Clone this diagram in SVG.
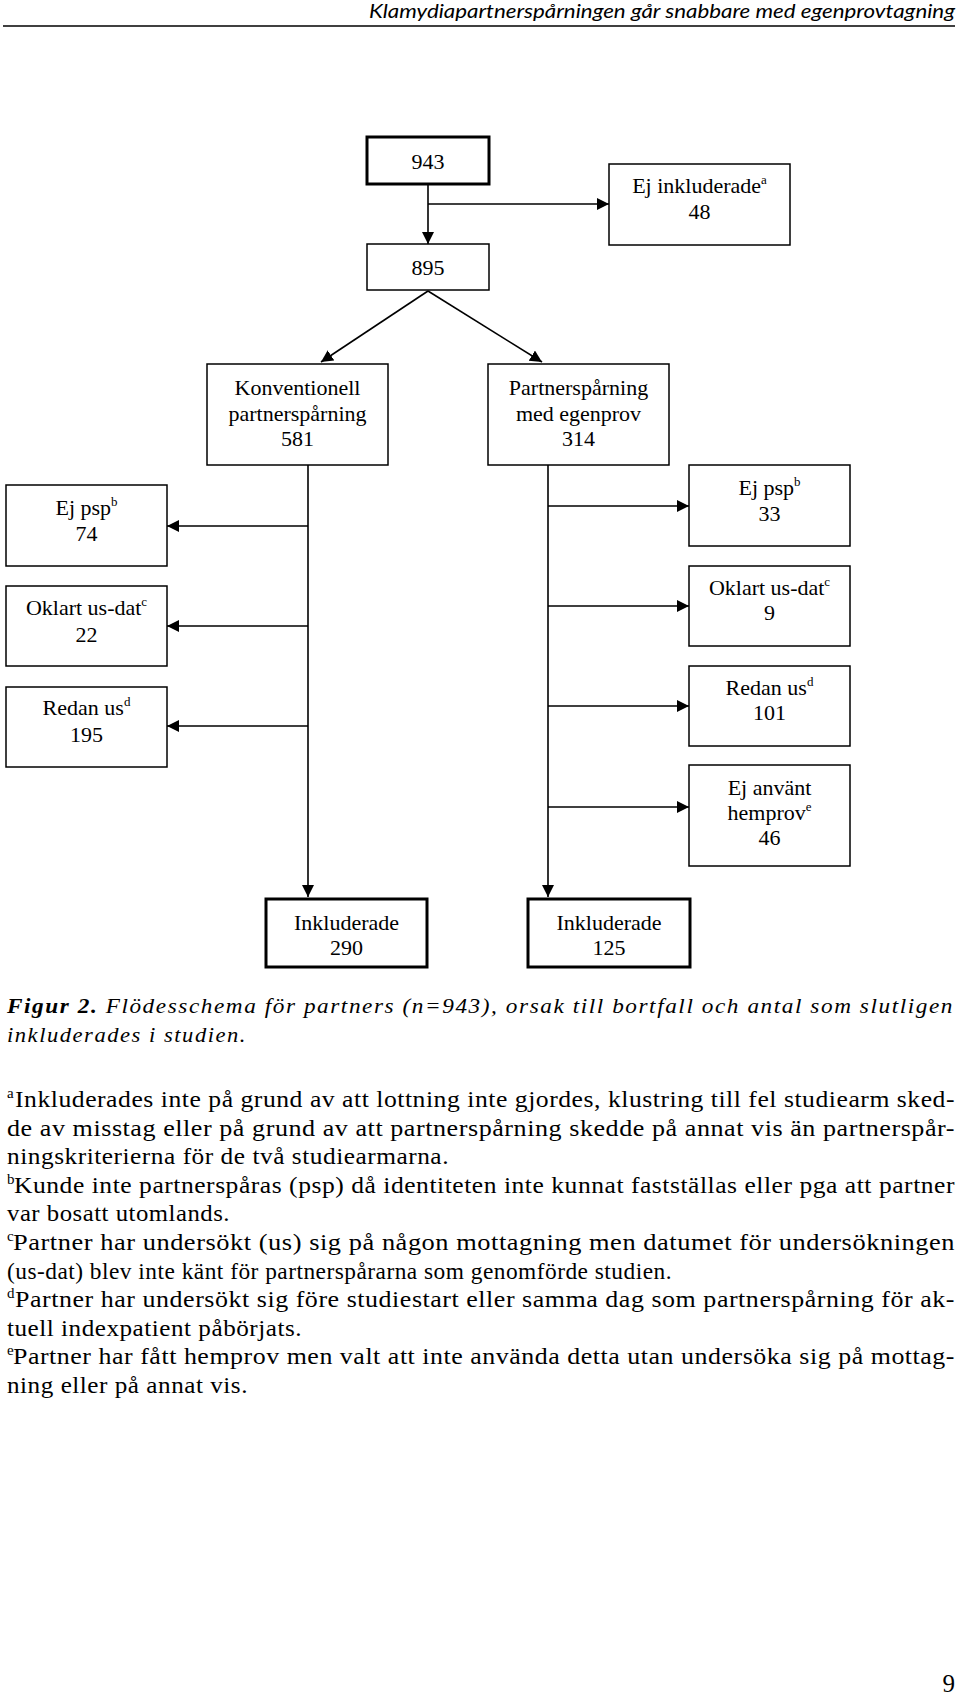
<svg xmlns="http://www.w3.org/2000/svg" width="960" height="1697" viewBox="0 0 960 1697">
<style>
.box{fill:#fff;stroke:#000;stroke-width:1.5}
.thick{fill:#fff;stroke:#000;stroke-width:3}
.t{font-family:"Liberation Serif","Times New Roman",serif;font-size:22px;fill:#000;text-anchor:middle}
.sup{font-size:13px}
.c{stroke:#000;stroke-width:1.6;fill:none}
.fn{font-family:"Liberation Serif","Times New Roman",serif;font-size:24px;letter-spacing:0.5px;fill:#000}
.fs{font-family:"Liberation Serif","Times New Roman",serif;font-size:15px;fill:#000}
.cap{font-family:"Liberation Serif","Times New Roman",serif;font-size:22px;letter-spacing:1.5px;font-style:italic;fill:#000}
</style>
<defs>
<marker id="arr" markerUnits="userSpaceOnUse" markerWidth="13" markerHeight="13" refX="12" refY="6" orient="auto">
<path d="M0,0 L12,6 L0,12 z" fill="#000"/>
</marker>
</defs>
<rect width="960" height="1697" fill="#fff"/>
<g id="header">
<text x="955" y="18" text-anchor="end" font-family="Lato,'Liberation Sans',sans-serif" font-style="italic" font-size="20" textLength="586" lengthAdjust="spacingAndGlyphs">Klamydiapartnerspårningen går snabbare med egenprovtagning</text>
<line x1="3" y1="26" x2="955" y2="26" stroke="#000" stroke-width="1.5"/>
</g>
<g id="connectors">
<line class="c" x1="428" y1="184" x2="428" y2="244" marker-end="url(#arr)"/>
<line class="c" x1="428" y1="204" x2="609" y2="204" marker-end="url(#arr)"/>
<line class="c" x1="428" y1="291" x2="321" y2="362" marker-end="url(#arr)"/>
<line class="c" x1="428" y1="291" x2="542" y2="362" marker-end="url(#arr)"/>
<line class="c" x1="308" y1="465" x2="308" y2="897" marker-end="url(#arr)"/>
<line class="c" x1="308" y1="526" x2="167" y2="526" marker-end="url(#arr)"/>
<line class="c" x1="308" y1="626" x2="167" y2="626" marker-end="url(#arr)"/>
<line class="c" x1="308" y1="726" x2="167" y2="726" marker-end="url(#arr)"/>
<line class="c" x1="548" y1="465" x2="548" y2="897" marker-end="url(#arr)"/>
<line class="c" x1="548" y1="506" x2="689" y2="506" marker-end="url(#arr)"/>
<line class="c" x1="548" y1="606" x2="689" y2="606" marker-end="url(#arr)"/>
<line class="c" x1="548" y1="706" x2="689" y2="706" marker-end="url(#arr)"/>
<line class="c" x1="548" y1="807" x2="689" y2="807" marker-end="url(#arr)"/>
</g>
<g id="n943"><rect class="thick" x="367" y="137" width="122" height="47"/><text class="t" x="428" y="169">943</text></g>
<g id="nEjInkl"><rect class="box" x="609" y="164" width="181" height="81"/><text class="t" x="699.5" y="193">Ej inkluderade<tspan class="sup" dy="-9">a</tspan></text><text class="t" x="699.5" y="219">48</text></g>
<g id="n895"><rect class="box" x="367" y="244" width="122" height="46"/><text class="t" x="428" y="275">895</text></g>
<g id="nKonv"><rect class="box" x="207" y="364" width="181" height="101"/><text class="t" x="297.5" y="395">Konventionell</text><text class="t" x="297.5" y="421">partnerspårning</text><text class="t" x="297.5" y="446">581</text></g>
<g id="nEgen"><rect class="box" x="488" y="364" width="181" height="101"/><text class="t" x="578.5" y="395">Partnerspårning</text><text class="t" x="578.5" y="421">med egenprov</text><text class="t" x="578.5" y="446">314</text></g>
<g id="nEjPsp74"><rect class="box" x="6" y="485" width="161" height="81"/><text class="t" x="86.5" y="515">Ej psp<tspan class="sup" dy="-9">b</tspan></text><text class="t" x="86.5" y="541">74</text></g>
<g id="nOklart22"><rect class="box" x="6" y="586" width="161" height="80"/><text class="t" x="86.5" y="615">Oklart us-dat<tspan class="sup" dy="-9">c</tspan></text><text class="t" x="86.5" y="642">22</text></g>
<g id="nRedan195"><rect class="box" x="6" y="687" width="161" height="80"/><text class="t" x="86.5" y="715">Redan us<tspan class="sup" dy="-9">d</tspan></text><text class="t" x="86.5" y="742">195</text></g>
<g id="nEjPsp33"><rect class="box" x="689" y="465" width="161" height="81"/><text class="t" x="769.5" y="495">Ej psp<tspan class="sup" dy="-9">b</tspan></text><text class="t" x="769.5" y="521">33</text></g>
<g id="nOklart9"><rect class="box" x="689" y="566" width="161" height="80"/><text class="t" x="769.5" y="595">Oklart us-dat<tspan class="sup" dy="-9">c</tspan></text><text class="t" x="769.5" y="620">9</text></g>
<g id="nRedan101"><rect class="box" x="689" y="666" width="161" height="80"/><text class="t" x="769.5" y="695">Redan us<tspan class="sup" dy="-9">d</tspan></text><text class="t" x="769.5" y="720">101</text></g>
<g id="nEjAnvant"><rect class="box" x="689" y="765" width="161" height="101"/><text class="t" x="769.5" y="795">Ej använt</text><text class="t" x="769.5" y="820">hemprov<tspan class="sup" dy="-9">e</tspan></text><text class="t" x="769.5" y="845">46</text></g>
<g id="nInkl290"><rect class="thick" x="266" y="899" width="161" height="68"/><text class="t" x="346.5" y="930">Inkluderade</text><text class="t" x="346.5" y="955">290</text></g>
<g id="nInkl125"><rect class="thick" x="528" y="899" width="162" height="68"/><text class="t" x="609" y="930">Inkluderade</text><text class="t" x="609" y="955">125</text></g>
<g id="caption">
<text class="cap" x="7" y="1013" textLength="947" lengthAdjust="spacingAndGlyphs"><tspan font-weight="bold">Figur 2.</tspan> Flödesschema för partners (n=943), orsak till bortfall och antal som slutligen</text>
<text class="cap" x="7" y="1042" textLength="240" lengthAdjust="spacingAndGlyphs">inkluderades i studien.</text>
</g>
<g id="footnotes">
<text class="fs" x="7" y="1098">a</text>
<text class="fn" x="15" y="1107" textLength="940" lengthAdjust="spacingAndGlyphs">Inkluderades inte på grund av att lottning inte gjordes, klustring till fel studiearm sked-</text>
<text class="fn" x="7" y="1135.6" textLength="948" lengthAdjust="spacingAndGlyphs">de av misstag eller på grund av att partnerspårning skedde på annat vis än partnerspår-</text>
<text class="fn" x="7" y="1164.2" textLength="442" lengthAdjust="spacingAndGlyphs">ningskriterierna för de två studiearmarna.</text>
<text class="fs" x="7" y="1183.8">b</text>
<text class="fn" x="14" y="1192.8" textLength="941" lengthAdjust="spacingAndGlyphs">Kunde inte partnerspåras (psp) då identiteten inte kunnat fastställas eller pga att partner</text>
<text class="fn" x="7" y="1221.4" textLength="223" lengthAdjust="spacingAndGlyphs">var bosatt utomlands.</text>
<text class="fs" x="7" y="1241">c</text>
<text class="fn" x="13" y="1250" textLength="942" lengthAdjust="spacingAndGlyphs">Partner har undersökt (us) sig på någon mottagning men datumet för undersökningen</text>
<text class="fn" x="7" y="1278.6" textLength="665" lengthAdjust="spacingAndGlyphs">(us-dat) blev inte känt för partnerspårarna som genomförde studien.</text>
<text class="fs" x="7" y="1298.2">d</text>
<text class="fn" x="15" y="1307.2" textLength="940" lengthAdjust="spacingAndGlyphs">Partner har undersökt sig före studiestart eller samma dag som partnerspårning för ak-</text>
<text class="fn" x="7" y="1335.8" textLength="295" lengthAdjust="spacingAndGlyphs">tuell indexpatient påbörjats.</text>
<text class="fs" x="7" y="1355.4">e</text>
<text class="fn" x="13" y="1364.4" textLength="942" lengthAdjust="spacingAndGlyphs">Partner har fått hemprov men valt att inte använda detta utan undersöka sig på mottag-</text>
<text class="fn" x="7" y="1393" textLength="241" lengthAdjust="spacingAndGlyphs">ning eller på annat vis.</text>
</g>
<g id="pagenum"><text x="955" y="1692" text-anchor="end" font-family="'Liberation Serif',serif" font-size="25">9</text></g>
</svg>
